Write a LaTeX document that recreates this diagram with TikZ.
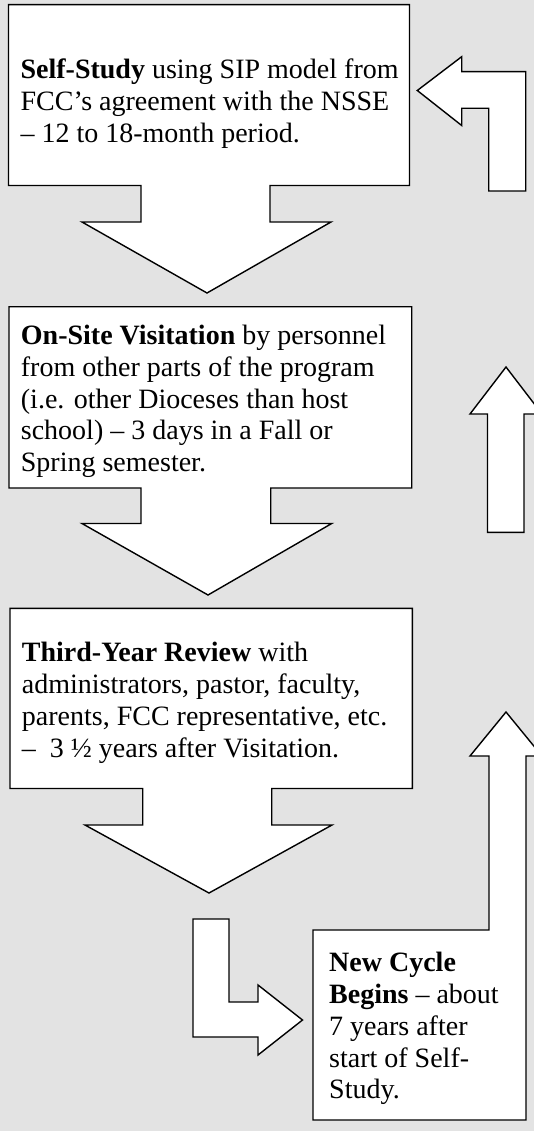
\documentclass[tikz,border=0pt]{standalone}
\usepackage{fontspec}
\setmainfont{Liberation Serif}
\begin{document}
\begin{tikzpicture}[x=1pt,y=-1pt,
  blockshape/.style={fill=white,draw=black,line width=1.4pt,line join=miter},
  txt/.style={anchor=north west,inner sep=0pt,align=left,font=\fontsize{28}{31.7}\selectfont}]
\fill[black!11] (0,0) rectangle (534,1131);
\useasboundingbox (0,0) rectangle (534,1131);

% box 1 with down arrow
\draw[blockshape] (8.5,4.7) -- (409.5,4.7) -- (409.5,185.5) -- (270,185.5) -- (270,222)
  -- (331,222) -- (207,293) -- (82,222) -- (141,222) -- (141,185.5) -- (8.5,185.5) -- cycle;
% box 2 with down arrow
\draw[blockshape] (9,306.7) -- (411.7,306.7) -- (411.7,488) -- (270.7,488) -- (270.7,523.5)
  -- (331.7,523.5) -- (208,595) -- (82,523.5) -- (141,523.5) -- (141,488) -- (9,488) -- cycle;
% box 3 with down arrow
\draw[blockshape] (10,608.4) -- (412.3,608.4) -- (412.3,788.5) -- (271.7,788.5) -- (271.7,825)
  -- (332,825) -- (209,893) -- (85,825) -- (142.7,825) -- (142.7,788.5) -- (10,788.5) -- cycle;
% box 4 with up arrow
\draw[blockshape] (313,930) -- (489,930) -- (489,756) -- (470,756) -- (506,712) -- (542,756)
  -- (526,756) -- (526,1120) -- (313,1120) -- cycle;
% L-shaped arrow to box 4
\draw[blockshape] (193,919) -- (229,919) -- (229,1002) -- (258,1002) -- (258,985) -- (302.5,1020)
  -- (258,1055) -- (258,1037) -- (193,1037) -- cycle;
% up arrow (middle right)
\draw[blockshape] (506,367) -- (542,414) -- (524,414) -- (524,532.3) -- (487.5,532.3)
  -- (487.5,414) -- (470,414) -- cycle;
% bent arrow into box 1
\draw[blockshape] (417.3,90.5) -- (461.7,56.7) -- (461.7,71.7) -- (525.7,71.7) -- (525.7,191)
  -- (488.7,191) -- (488.7,108.3) -- (461.7,108.3) -- (461.7,125.5) -- cycle;

\node[txt] (selfstudy) at (20.4,58.7) {\textbf{Self-Study} using SIP model from\\FCC’s agreement with the NSSE\\– 12 to 18-month period.};
\node[txt] (visitation) at (20.7,325) {\textbf{On-Site Visitation} by personnel\\from other parts of the program\\(i.e. other Dioceses than host\\school) – 3 days in a Fall or\\Spring semester.};
\node[txt] (review) at (21.7,642.3) {\textbf{Third-Year Review} with\\administrators, pastor, faculty,\\parents, FCC representative, etc.\\–\ \ 3 ½ years after Visitation.};
\node[txt] (newcycle) at (329,952.3) {\textbf{New Cycle}\\\textbf{Begins} – about\\7 years after\\start of Self-\\Study.};
\end{tikzpicture}
\end{document}
